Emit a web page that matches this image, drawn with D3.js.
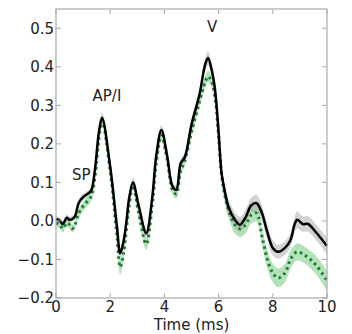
<!DOCTYPE html>
<html><head><meta charset="utf-8">
<script src="https://cdn.jsdelivr.net/npm/d3@7"></script>
<style>body{margin:0;background:#fff}svg{display:block}text{font-family:"DejaVu Sans",sans-serif;fill:#222}</style>
</head><body><svg id="c" width="352" height="334"></svg>
<script>
const time = [0.0,0.15,0.25,0.4,0.5,0.6,0.7,0.84,1.02,1.27,1.33,1.45,1.58,1.70,2.0,2.25,2.37,2.5,2.6,2.7,2.84,3.05,3.33,3.55,3.7,3.89,4.1,4.3,4.44,4.6,4.75,5.0,5.3,5.5,5.61,5.75,5.87,6.0,6.11,6.25,6.36,6.6,6.79,7.0,7.2,7.4,7.6,7.8,8.0,8.2,8.45,8.65,8.8,8.9,9.1,9.3,9.6,10.0];
const blackMean = [0.005,0.0,-0.008,0.008,0.003,0.005,0.012,0.047,0.063,0.076,0.085,0.141,0.229,0.268,0.141,-0.015,-0.084,-0.05,0.0,0.06,0.10,0.04,-0.032,0.06,0.17,0.236,0.17,0.09,0.081,0.15,0.165,0.25,0.33,0.405,0.423,0.39,0.34,0.23,0.124,0.07,0.037,0.003,-0.01,0.01,0.04,0.046,0.02,-0.03,-0.07,-0.08,-0.07,-0.05,-0.01,0.003,-0.008,-0.008,-0.03,-0.065];
const blackSd = [0.008,0.008,0.008,0.008,0.008,0.008,0.008,0.008,0.008,0.008,0.008,0.01,0.01,0.012,0.01,0.01,0.012,0.01,0.01,0.01,0.012,0.01,0.012,0.01,0.01,0.012,0.01,0.01,0.012,0.012,0.012,0.012,0.012,0.015,0.018,0.015,0.015,0.015,0.015,0.018,0.02,0.02,0.02,0.02,0.02,0.022,0.02,0.02,0.02,0.018,0.018,0.018,0.02,0.022,0.02,0.02,0.02,0.022];
const greenMean = [-0.005,-0.01,-0.02,-0.005,-0.01,-0.02,-0.01,0.02,0.04,0.06,0.07,0.12,0.21,0.26,0.13,-0.04,-0.12,-0.08,-0.02,0.04,0.092,0.02,-0.06,0.04,0.15,0.222,0.16,0.08,0.07,0.13,0.155,0.23,0.31,0.36,0.375,0.36,0.32,0.22,0.12,0.06,0.03,-0.01,-0.02,-0.01,0.015,0.02,-0.04,-0.1,-0.135,-0.148,-0.135,-0.1,-0.085,-0.08,-0.085,-0.095,-0.115,-0.155];
const greenSd = [0.01,0.01,0.01,0.01,0.01,0.01,0.01,0.012,0.012,0.012,0.012,0.012,0.012,0.012,0.012,0.015,0.02,0.015,0.012,0.012,0.012,0.012,0.015,0.012,0.012,0.012,0.012,0.012,0.012,0.012,0.012,0.012,0.012,0.015,0.015,0.015,0.015,0.015,0.018,0.02,0.022,0.022,0.022,0.022,0.022,0.022,0.022,0.024,0.024,0.024,0.024,0.024,0.022,0.022,0.022,0.022,0.024,0.026];
const xTicks = [0,2,4,6,8,10];
const yTicks = [-0.2,-0.1,0.0,0.1,0.2,0.3,0.4,0.5];
const labels = [{text:"SP",t:0.93,v:0.105},{text:"AP/I",t:1.88,v:0.31},{text:"V",t:5.76,v:0.49}];

const svg = d3.select("#c");
const L=56,R=327,T=9,B=298;
const x = d3.scaleLinear().domain([0,10]).range([L,R]);
const y = d3.scaleLinear().domain([-0.2,0.55]).range([B,T]);
const idx = d3.range(time.length);
const curve = d3.curveCatmullRom.alpha(0.5);
const area = (m,s)=>d3.area().curve(curve).x(i=>x(time[i])).y0(i=>y(m[i]-s[i])).y1(i=>y(m[i]+s[i]));
const line = (m)=>d3.line().curve(curve).x(i=>x(time[i])).y(i=>y(m[i]));

svg.append("path").attr("d",area(greenMean,greenSd)(idx)).attr("fill","#7fd08a").attr("fill-opacity",0.6);
svg.append("path").attr("d",area(blackMean,blackSd)(idx)).attr("fill","#a8a8a8").attr("fill-opacity",0.5);
svg.append("path").attr("d",line(greenMean)(idx)).attr("fill","none").attr("stroke","#1e7a32").attr("stroke-width",3).attr("stroke-dasharray","2.5,3.5");
svg.append("path").attr("d",line(blackMean)(idx)).attr("fill","none").attr("stroke","#000").attr("stroke-width",2.5);

// frame
svg.append("rect").attr("x",L).attr("y",T).attr("width",R-L).attr("height",B-T).attr("fill","none").attr("stroke","#aaa").attr("stroke-width",1.2);
const ax = svg.append("g").attr("stroke","#aaa").attr("stroke-width",1);
xTicks.forEach(t=>{ax.append("line").attr("x1",x(t)).attr("x2",x(t)).attr("y1",B).attr("y2",B-5);ax.append("line").attr("x1",x(t)).attr("x2",x(t)).attr("y1",T).attr("y2",T+5);});
yTicks.forEach(v=>{ax.append("line").attr("x1",L).attr("x2",L+5).attr("y1",y(v)).attr("y2",y(v));ax.append("line").attr("x1",R).attr("x2",R-5).attr("y1",y(v)).attr("y2",y(v));});
const fmt = d=> (d<0?"\u2212":"")+Math.abs(d).toFixed(1);
svg.selectAll(".yt").data(yTicks).join("text").attr("x",L-2).attr("y",d=>y(d)).attr("dy","0.36em").attr("text-anchor","end").attr("font-size",15).text(fmt);
svg.selectAll(".xt").data(xTicks).join("text").attr("x",d=>x(d)).attr("y",312).attr("text-anchor","middle").attr("font-size",15).text(d=>d);
svg.append("text").attr("x",(L+R)/2).attr("y",330).attr("text-anchor","middle").attr("font-size",15).text("Time (ms)");
svg.selectAll(".ann").data(labels).join("text").attr("x",d=>x(d.t)).attr("y",d=>y(d.v)).attr("text-anchor","middle").attr("font-size",15).text(d=>d.text);
</script></body></html>
